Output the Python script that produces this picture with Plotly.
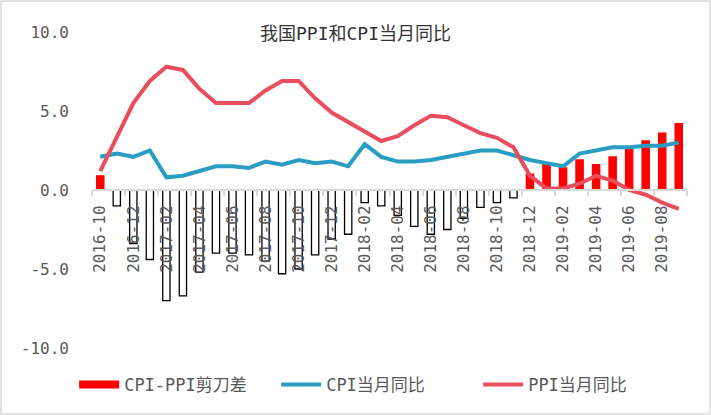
import plotly.graph_objects as go

months = [
    "2016-10", "2016-11", "2016-12",
    "2017-01", "2017-02", "2017-03", "2017-04", "2017-05", "2017-06",
    "2017-07", "2017-08", "2017-09", "2017-10", "2017-11", "2017-12",
    "2018-01", "2018-02", "2018-03", "2018-04", "2018-05", "2018-06",
    "2018-07", "2018-08", "2018-09", "2018-10", "2018-11", "2018-12",
    "2019-01", "2019-02", "2019-03", "2019-04", "2019-05", "2019-06",
    "2019-07", "2019-08", "2019-09",
]
cpi = [2.1, 2.3, 2.1, 2.5, 0.8, 0.9, 1.2, 1.5, 1.5, 1.4, 1.8, 1.6,
       1.9, 1.7, 1.8, 1.5, 2.9, 2.1, 1.8, 1.8, 1.9, 2.1, 2.3, 2.5,
       2.5, 2.2, 1.9, 1.7, 1.5, 2.3, 2.5, 2.7, 2.7, 2.8, 2.8, 3.0]
ppi = [1.2, 3.3, 5.5, 6.9, 7.8, 7.6, 6.4, 5.5, 5.5, 5.5, 6.3, 6.9,
       6.9, 5.8, 4.9, 4.3, 3.7, 3.1, 3.4, 4.1, 4.7, 4.6, 4.1, 3.6,
       3.3, 2.7, 0.9, 0.1, 0.1, 0.4, 0.9, 0.6, 0.0, -0.3, -0.8, -1.2]
gap = [round(c - p, 1) for c, p in zip(cpi, ppi)]

y_ticks = [10, 5, 0, -5, -10]
y_labels = ["10.0", "5.0", "0.0", "-5.0", "-10.0"]

FONT = "DejaVu Sans Mono, Noto Sans CJK SC, sans-serif"
GREY = "#595959"
RED = "#FF0000"

bar_fill = [RED if v >= 0 else "#FFFFFF" for v in gap]
bar_edge = [RED if v >= 0 else "#000000" for v in gap]

fig = go.Figure()
fig.add_trace(go.Bar(
    x=months, y=gap, name="CPI-PPI剪刀差", showlegend=False,
    marker=dict(color=bar_fill, line=dict(color=bar_edge, width=1.3)),
))
# legend entry for the bars (wide red block like the original)
fig.add_trace(go.Scatter(
    x=[None], y=[None], mode="lines", name="CPI-PPI剪刀差",
    line=dict(color=RED, width=8),
))
fig.add_trace(go.Scatter(
    x=months, y=cpi, mode="lines", name="CPI当月同比",
    line=dict(color="#2A9DC2", width=4),
))
fig.add_trace(go.Scatter(
    x=months, y=ppi, mode="lines", name="PPI当月同比",
    line=dict(color="#E84E5E", width=4),
))

fig.update_layout(
    width=711, height=415,
    paper_bgcolor="white", plot_bgcolor="white",
    font=dict(family=FONT, color=GREY, size=16),
    margin=dict(t=32, r=24, b=67, l=92),
    bargap=0.56,
    title=dict(text="我国PPI和CPI当月同比", x=0.5, xanchor="center",
               y=0.918, yanchor="middle",
               font=dict(family=FONT, size=18, color="#333333")),
    showlegend=True,
    legend=dict(orientation="h", x=-0.03, xanchor="left",
                y=-0.117, yanchor="middle",
                font=dict(size=17, color=GREY), itemwidth=40,
                entrywidth=147, traceorder="normal"),
    xaxis=dict(
        type="category", anchor="free", position=0.5,
        showline=True, linecolor="#D9D9D9", linewidth=2,
        ticks="outside", tickson="boundaries", ticklen=5,
        tickcolor="#D9D9D9", tickwidth=2,
        dtick=2, tickangle=-90, ticklabelstandoff=8,
        tickfont=dict(size=16, color=GREY),
        showgrid=False, zeroline=False,
    ),
    yaxis=dict(
        range=[-10, 10], tickvals=y_ticks, ticktext=y_labels,
        showgrid=False, zeroline=False, showline=False,
        ticklabelstandoff=22, tickfont=dict(size=16, color=GREY),
    ),
    shapes=[dict(type="rect", xref="paper", yref="paper",
                 x0=-0.153, x1=1.0387, y0=-0.209, y1=1.098,
                 line=dict(color="#D9D9D9", width=1.5))],
)

fig.write_html("out.html", config={"displayModeBar": False},
               post_script="document.body.style.margin='0';")
